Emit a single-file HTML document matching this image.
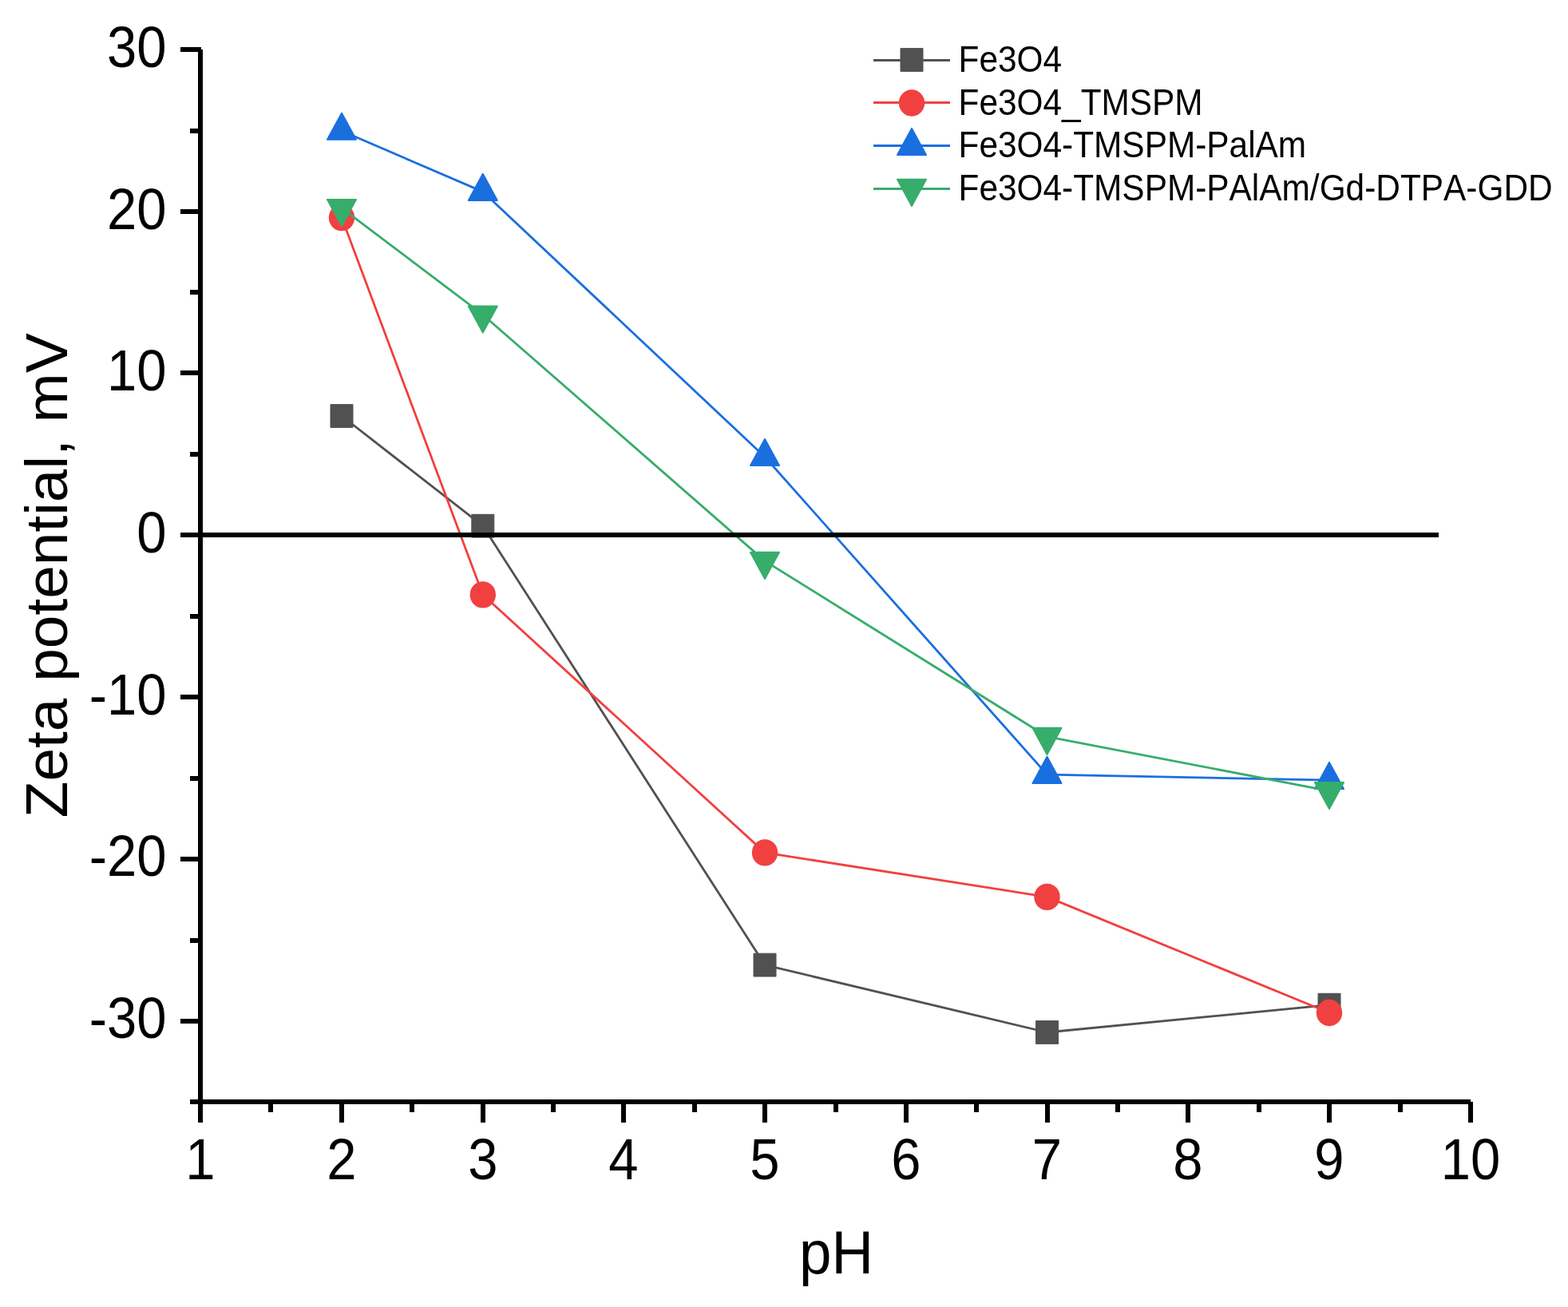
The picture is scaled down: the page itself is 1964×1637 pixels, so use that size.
<!DOCTYPE html>
<html><head><meta charset="utf-8"><title>Zeta potential vs pH</title>
<style>
html,body{margin:0;padding:0;background:#fff;width:1964px;height:1637px;overflow:hidden}
svg{display:block}
text{font-family:"Liberation Sans",sans-serif;fill:#000;font-kerning:none}
</style></head><body>
<svg width="1964" height="1637" viewBox="0 0 1964 1637">
<rect width="1964" height="1637" fill="#fff"/>

<polyline points="428.0,521.0 604.8,658.7 958.0,1208.6 1311.5,1293.0 1665.0,1258.7" fill="none" stroke="#515151" stroke-width="2.8" stroke-linejoin="round"/>
<rect x="414.0" y="506.6" width="28.0" height="28.8" fill="#515151" stroke="#515151" stroke-width="1" stroke-linejoin="round"/>
<rect x="590.8" y="644.3" width="28.0" height="28.8" fill="#515151" stroke="#515151" stroke-width="1" stroke-linejoin="round"/>
<rect x="944.0" y="1194.2" width="28.0" height="28.8" fill="#515151" stroke="#515151" stroke-width="1" stroke-linejoin="round"/>
<rect x="1297.5" y="1278.6" width="28.0" height="28.8" fill="#515151" stroke="#515151" stroke-width="1" stroke-linejoin="round"/>
<rect x="1651.0" y="1244.3" width="28.0" height="28.8" fill="#515151" stroke="#515151" stroke-width="1" stroke-linejoin="round"/>
<polyline points="428.0,272.6 604.8,744.9 958.0,1067.9 1311.5,1123.4 1665.0,1268.5" fill="none" stroke="#F14040" stroke-width="2.8" stroke-linejoin="round"/>
<ellipse cx="428.0" cy="272.6" rx="16.2" ry="16.7" fill="#F14040"/>
<ellipse cx="604.8" cy="744.9" rx="16.2" ry="16.7" fill="#F14040"/>
<ellipse cx="958.0" cy="1067.9" rx="16.2" ry="16.7" fill="#F14040"/>
<ellipse cx="1311.5" cy="1123.4" rx="16.2" ry="16.7" fill="#F14040"/>
<ellipse cx="1665.0" cy="1268.5" rx="16.2" ry="16.7" fill="#F14040"/>
<polyline points="428.0,164.0 604.8,240.1 958.0,572.2 1311.5,970.1 1665.0,977.2" fill="none" stroke="#1A6FDF" stroke-width="2.8" stroke-linejoin="round"/>
<polygon points="428.0,141.7 446.0,174.8 410.0,174.8" fill="#1A6FDF" stroke="#1A6FDF" stroke-width="2" stroke-linejoin="round"/>
<polygon points="604.8,217.8 622.8,250.9 586.8,250.9" fill="#1A6FDF" stroke="#1A6FDF" stroke-width="2" stroke-linejoin="round"/>
<polygon points="958.0,549.9 976.0,583.0 940.0,583.0" fill="#1A6FDF" stroke="#1A6FDF" stroke-width="2" stroke-linejoin="round"/>
<polygon points="1311.5,947.8 1329.5,980.9 1293.5,980.9" fill="#1A6FDF" stroke="#1A6FDF" stroke-width="2" stroke-linejoin="round"/>
<polygon points="1665.0,954.9 1683.0,988.0 1647.0,988.0" fill="#1A6FDF" stroke="#1A6FDF" stroke-width="2" stroke-linejoin="round"/>
<polyline points="428.0,260.7 604.8,394.2 958.0,702.6 1311.5,922.6 1665.0,990.7" fill="none" stroke="#37AD6B" stroke-width="2.8" stroke-linejoin="round"/>
<polygon points="410.0,249.9 446.0,249.9 428.0,283.0" fill="#37AD6B" stroke="#37AD6B" stroke-width="2" stroke-linejoin="round"/>
<polygon points="586.8,383.4 622.8,383.4 604.8,416.5" fill="#37AD6B" stroke="#37AD6B" stroke-width="2" stroke-linejoin="round"/>
<polygon points="940.0,691.8 976.0,691.8 958.0,724.9" fill="#37AD6B" stroke="#37AD6B" stroke-width="2" stroke-linejoin="round"/>
<polygon points="1293.5,911.8 1329.5,911.8 1311.5,944.9" fill="#37AD6B" stroke="#37AD6B" stroke-width="2" stroke-linejoin="round"/>
<polygon points="1647.0,979.9 1683.0,979.9 1665.0,1013.0" fill="#37AD6B" stroke="#37AD6B" stroke-width="2" stroke-linejoin="round"/>
<line x1="226" y1="670" x2="1802" y2="670" stroke="#000" stroke-width="6" shape-rendering="crispEdges"/>
<g stroke="#000" stroke-width="6" fill="none" shape-rendering="crispEdges">
<line x1="251" y1="62" x2="251" y2="1406"/>
<line x1="238" y1="1380" x2="1842" y2="1380"/>
<line x1="226" y1="62" x2="252" y2="62"/>
<line x1="226" y1="265" x2="252" y2="265"/>
<line x1="226" y1="467" x2="252" y2="467"/>
<line x1="226" y1="670" x2="252" y2="670"/>
<line x1="226" y1="873" x2="252" y2="873"/>
<line x1="226" y1="1076" x2="252" y2="1076"/>
<line x1="226" y1="1279" x2="252" y2="1279"/>
<line x1="238" y1="163.5" x2="251" y2="163.5"/>
<line x1="238" y1="366" x2="251" y2="366"/>
<line x1="238" y1="568.5" x2="251" y2="568.5"/>
<line x1="238" y1="772" x2="251" y2="772"/>
<line x1="238" y1="974.5" x2="251" y2="974.5"/>
<line x1="238" y1="1177.5" x2="251" y2="1177.5"/>
<line x1="238" y1="1380" x2="251" y2="1380"/>
<line x1="428" y1="1380" x2="428" y2="1406"/>
<line x1="605" y1="1380" x2="605" y2="1406"/>
<line x1="781" y1="1380" x2="781" y2="1406"/>
<line x1="958" y1="1380" x2="958" y2="1406"/>
<line x1="1135" y1="1380" x2="1135" y2="1406"/>
<line x1="1311.5" y1="1380" x2="1311.5" y2="1406"/>
<line x1="1488" y1="1380" x2="1488" y2="1406"/>
<line x1="1665" y1="1380" x2="1665" y2="1406"/>
<line x1="1842" y1="1380" x2="1842" y2="1406"/>
<line x1="339.4" y1="1380" x2="339.4" y2="1393"/>
<line x1="516.2" y1="1380" x2="516.2" y2="1393"/>
<line x1="693.0" y1="1380" x2="693.0" y2="1393"/>
<line x1="869.7" y1="1380" x2="869.7" y2="1393"/>
<line x1="1046.5" y1="1380" x2="1046.5" y2="1393"/>
<line x1="1223.3" y1="1380" x2="1223.3" y2="1393"/>
<line x1="1400.1" y1="1380" x2="1400.1" y2="1393"/>
<line x1="1576.8" y1="1380" x2="1576.8" y2="1393"/>
<line x1="1753.6" y1="1380" x2="1753.6" y2="1393"/>
</g>
<text transform="translate(208.6,84) scale(1,1.07)" font-size="67" text-anchor="end">30</text>
<text transform="translate(208.6,287) scale(1,1.07)" font-size="67" text-anchor="end">20</text>
<text transform="translate(208.6,489) scale(1,1.07)" font-size="67" text-anchor="end">10</text>
<text transform="translate(208.6,692) scale(1,1.07)" font-size="67" text-anchor="end">0</text>
<text transform="translate(208.6,895) scale(1,1.07)" font-size="67" text-anchor="end">-10</text>
<text transform="translate(208.6,1097) scale(1,1.07)" font-size="67" text-anchor="end">-20</text>
<text transform="translate(208.6,1300) scale(1,1.07)" font-size="67" text-anchor="end">-30</text>
<text transform="translate(251,1477) scale(1,1.07)" font-size="67" text-anchor="middle">1</text>
<text transform="translate(428,1477) scale(1,1.07)" font-size="67" text-anchor="middle">2</text>
<text transform="translate(605,1477) scale(1,1.07)" font-size="67" text-anchor="middle">3</text>
<text transform="translate(781,1477) scale(1,1.07)" font-size="67" text-anchor="middle">4</text>
<text transform="translate(958,1477) scale(1,1.07)" font-size="67" text-anchor="middle">5</text>
<text transform="translate(1135,1477) scale(1,1.07)" font-size="67" text-anchor="middle">6</text>
<text transform="translate(1311.5,1477) scale(1,1.07)" font-size="67" text-anchor="middle">7</text>
<text transform="translate(1488,1477) scale(1,1.07)" font-size="67" text-anchor="middle">8</text>
<text transform="translate(1665,1477) scale(1,1.07)" font-size="67" text-anchor="middle">9</text>
<text transform="translate(1842,1477) scale(1,1.07)" font-size="67" text-anchor="middle">10</text>
<text transform="translate(84,1024.2) rotate(-90)" font-size="74.8">Zeta potential, mV</text>
<text transform="translate(1001.1,1594.8) scale(1,1.04)" font-size="72.7">pH</text>
<line x1="1094" y1="75.5" x2="1190" y2="75.5" stroke="#515151" stroke-width="3"/>
<rect x="1128.0" y="60.6" width="28.0" height="28.8" fill="#515151" stroke="#515151" stroke-width="1" stroke-linejoin="round"/>
<text transform="translate(1200.5,89.9) scale(1,1.07)" font-size="42.4">Fe3O4</text>
<line x1="1094" y1="128.5" x2="1190" y2="128.5" stroke="#F14040" stroke-width="3"/>
<ellipse cx="1142.0" cy="129.0" rx="16.2" ry="16.7" fill="#F14040"/>
<text transform="translate(1200.5,143.8) scale(1,1.07)" font-size="42.4">Fe3O4_TMSPM</text>
<line x1="1094" y1="182.5" x2="1190" y2="182.5" stroke="#1A6FDF" stroke-width="3"/>
<polygon points="1142.0,160.9 1160.0,194.0 1124.0,194.0" fill="#1A6FDF" stroke="#1A6FDF" stroke-width="2" stroke-linejoin="round"/>
<text transform="translate(1200.5,197.0) scale(1,1.07)" font-size="42.4">Fe3O4-TMSPM-PalAm</text>
<line x1="1094" y1="236.5" x2="1190" y2="236.5" stroke="#37AD6B" stroke-width="3"/>
<polygon points="1124.0,224.8 1160.0,224.8 1142.0,257.9" fill="#37AD6B" stroke="#37AD6B" stroke-width="2" stroke-linejoin="round"/>
<text transform="translate(1200.5,250.8) scale(1,1.07)" font-size="42.4">Fe3O4-TMSPM-PAlAm/Gd-DTPA-GDD</text>
</svg></body></html>
